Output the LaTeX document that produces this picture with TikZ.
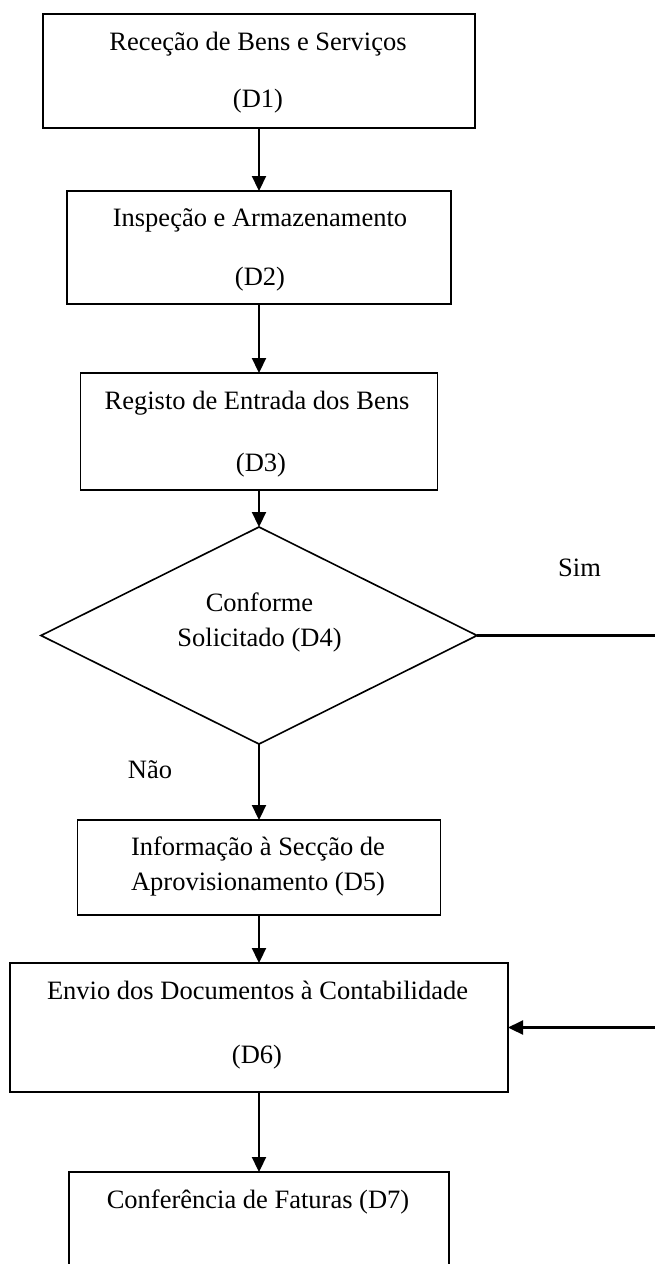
\documentclass[tikz,border=0pt]{standalone}
\usepackage{fontspec}
\setmainfont{Liberation Serif}
\usetikzlibrary{arrows.meta,shapes.geometric}

\tikzset{
  stepbox/.style={draw, line width=1.6pt, rectangle, inner sep=0pt, outer sep=0pt},
  decision/.style={draw, line width=1.6pt, diamond, inner sep=0pt, outer sep=0pt},
  txt/.style={inner sep=0pt, anchor=base},
  flow/.style={line width=2.2pt, -{Triangle[length=15pt,width=14pt]}},
  plain/.style={line width=2pt}
}

\begin{document}
\begin{tikzpicture}[x=1pt, y=-1pt, font=\fontsize{26.5}{35}\selectfont]
  \useasboundingbox (0,0) rectangle (655,1264);
  \fill[white] (0,0) rectangle (655,1264);
  \clip (0,0) rectangle (655,1264);

  % process boxes and decision
  \node[stepbox, minimum width=432pt, minimum height=114pt] (d1) at (259,71) {};
  \node[stepbox, minimum width=384pt, minimum height=113pt] (d2) at (259,247.5) {};
  \node[stepbox, minimum width=357pt, minimum height=117pt] (d3) at (259,431.5) {};
  \node[decision, minimum width=436pt, minimum height=217pt] (d4) at (259,635.5) {};
  \node[stepbox, minimum width=363pt, minimum height=95pt] (d5) at (259,867.5) {};
  \node[stepbox, minimum width=498pt, minimum height=129pt] (d6) at (259,1027.5) {};
  \node[stepbox, minimum width=380pt, minimum height=140pt] (d7) at (259,1242) {};

  % texts
  \node[txt] (t1a) at (258,50) {Receção de Bens e Serviços};
  \node[txt] (t1b) at (258,107) {(D1)};
  \node[txt] (t2a) at (260,226) {Inspeção e Armazenamento};
  \node[txt] (t2b) at (260,285) {(D2)};
  \node[txt] (t3a) at (257,409) {Registo de Entrada dos Bens};
  \node[txt] (t3b) at (261,471) {(D3)};
  \node[txt] (t4a) at (259.5,611) {Conforme};
  \node[txt] (t4b) at (259.5,646) {Solicitado (D4)};
  \node[txt] (t5a) at (258,855.5) {Informação à Secção de};
  \node[txt] (t5b) at (258,890) {Aprovisionamento (D5)};
  \node[txt] (t6a) at (257.5,999.5) {Envio dos Documentos à Contabilidade};
  \node[txt] (t6b) at (257,1063) {(D6)};
  \node[txt] (t7a) at (258,1208) {Conferência de Faturas (D7)};

  % branch labels
  \node[txt] (sim) at (579.5,576.5) {Sim};
  \node[txt] (nao) at (150,778) {Não};

  % connectors
  \coordinate (turn) at (700,635.5);
  \draw[flow] (d1) -- (d2);
  \draw[flow] (d2) -- (d3);
  \draw[flow] (d3) -- (d4);
  \draw[flow] (d4) -- (d5);
  \draw[flow] (d5) -- (d6);
  \draw[flow] (d6) -- (d7);
  \draw[flow] (d4.east) -- (turn) |- (d6.east);
\end{tikzpicture}
\end{document}
